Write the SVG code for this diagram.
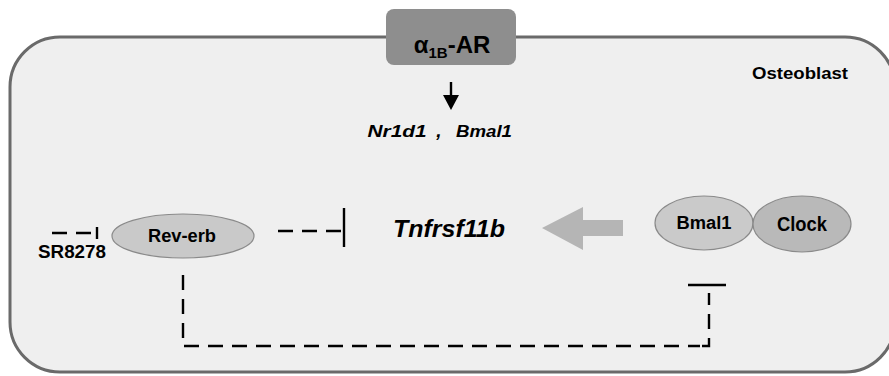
<svg xmlns="http://www.w3.org/2000/svg" width="889" height="376" viewBox="0 0 889 376">
  <style>
    .lbl { font-family: "Liberation Sans", Arial, sans-serif; font-weight: bold; fill: #000; text-anchor: middle; }
    .it { font-style: italic; }
    .node { stroke: #8a8a8a; stroke-width: 1.2; }
    .dash { fill: none; stroke: #000; stroke-width: 2.4; stroke-dasharray: 15 9; }
    .bar { fill: none; stroke: #000; stroke-width: 2.4; }
  </style>

  <rect width="889" height="376" fill="#ffffff"/>

  <!-- cell outline -->
  <g id="osteoblast">
    <rect x="10" y="37" width="885" height="335" rx="50" ry="50" fill="#efefef" stroke="#6a6a6a" stroke-width="3"/>
    <text class="lbl" x="800" y="79" font-size="17" textLength="96" lengthAdjust="spacingAndGlyphs">Osteoblast</text>
  </g>

  <!-- receptor on the membrane -->
  <g id="receptor">
    <rect x="386" y="9" width="130" height="56" rx="8" ry="8" fill="#8e8e8e"/>
    <text class="lbl" x="452" y="53" font-size="24">α<tspan font-size="15" dy="5">1B</tspan><tspan dy="-5">-AR</tspan></text>
  </g>

  <g id="genes">
    <text class="lbl it" x="397" y="137" font-size="16" textLength="59" lengthAdjust="spacingAndGlyphs">Nr1d1</text>
    <text class="lbl it" x="439" y="137" font-size="19">,</text>
    <text class="lbl it" x="484" y="137" font-size="16" textLength="56" lengthAdjust="spacingAndGlyphs">Bmal1</text>
  </g>

  <g id="sr8278">
    <text class="lbl" x="72" y="258" font-size="18" textLength="68" lengthAdjust="spacingAndGlyphs">SR8278</text>
  </g>

  <g id="reverb">
    <ellipse class="node" cx="183" cy="236" rx="71" ry="22" fill="#c9c9c9"/>
    <text class="lbl" x="182" y="242" font-size="18" textLength="68" lengthAdjust="spacingAndGlyphs">Rev-erb</text>
  </g>

  <g id="tnfrsf11b">
    <text class="lbl it" x="449" y="237" font-size="24" textLength="112" lengthAdjust="spacingAndGlyphs">Tnfrsf11b</text>
  </g>

  <g id="bmal1">
    <ellipse class="node" cx="704" cy="223" rx="49" ry="27" fill="#cacaca"/>
    <text class="lbl" x="704" y="229" font-size="18" textLength="55" lengthAdjust="spacingAndGlyphs">Bmal1</text>
  </g>

  <g id="clock">
    <ellipse class="node" cx="802" cy="224" rx="49" ry="28" fill="#b9b9b9"/>
    <text class="lbl" x="802" y="231" font-size="20" textLength="50" lengthAdjust="spacingAndGlyphs">Clock</text>
  </g>

  <!-- connectors -->
  <g id="connectors">
    <!-- receptor induces gene expression -->
    <line x1="451" y1="82" x2="451" y2="98" stroke="#000" stroke-width="2.4"/>
    <polygon points="443,95 459,95 451,110" fill="#000"/>
    <!-- SR8278 inhibits Rev-erb -->
    <path class="dash" d="M52 233 H97" stroke-dasharray="12 8"/>
    <path class="bar" d="M97 227 V239"/>
    <!-- Rev-erb represses Tnfrsf11b -->
    <path class="dash" d="M278 231 H344" stroke-dasharray="14 9"/>
    <path class="bar" d="M344 208 V247"/>
    <!-- Bmal1/Clock activates Tnfrsf11b -->
    <path d="M542 228 L583 207 L583 220 L623 220 L623 236 L583 236 L583 250 Z" fill="#b5b5b5"/>
    <!-- Rev-erb represses Bmal1 -->
    <path class="dash" d="M183 275 V346 H700"/>
    <path class="dash" d="M702 346 H709 V293" stroke-dasharray="16 7"/>
    <path class="bar" d="M688 285 H726"/>
  </g>
</svg>
